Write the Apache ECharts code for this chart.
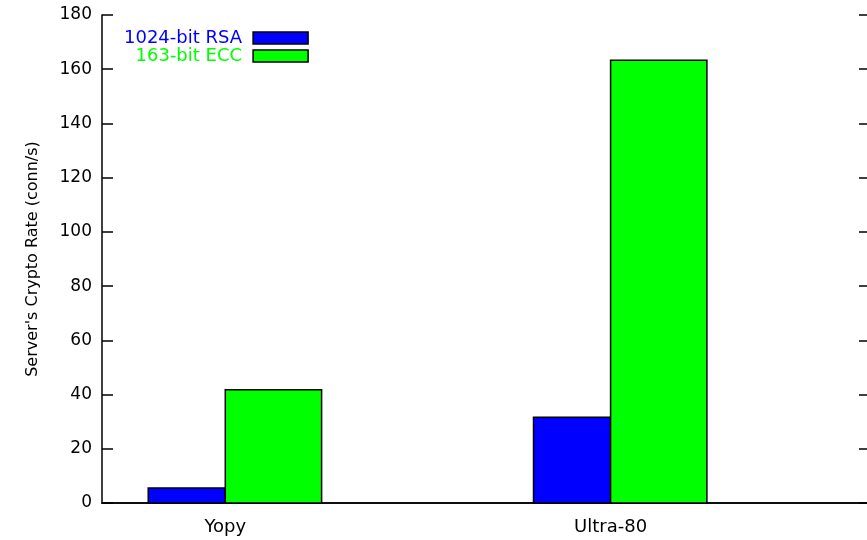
<!DOCTYPE html>
<html>
<head>
<meta charset="utf-8">
<script src="https://cdn.jsdelivr.net/npm/echarts@6/dist/echarts.min.js"></script>
<style>
  html, body { margin: 0; padding: 0; background: #fff; overflow: hidden; }
  /* the frame runs a little past the right edge of the window */
  #chart { width: 870px; height: 540px; }
</style>
</head>
<body>
<div id="chart"></div>
<script>
// Platforms on the x axis and where their tick sits
const categories = ['Yopy', 'Ultra-80'];
const tickPos = [1, 4];

// Server crypto rate, connections per second
const rsaValues = [5.5, 31.6];
const eccValues = [41.8, 163.3];

const seriesNames = ['1024-bit RSA', '163-bit ECC'];
const yTicks = [0, 20, 40, 60, 80, 100, 120, 140, 160, 180];

const FONT = 'DejaVu Sans';

// Box drawn from the tick position shifted by [lo, hi] x-units, from 0 up to the value
function boxRenderer(lo, hi) {
  return function (params, api) {
    const x = api.value(0);
    const v = api.value(1);
    const p0 = api.coord([x + lo, 0]);
    const p1 = api.coord([x + hi, v]);
    return {
      type: 'rect',
      shape: { x: p0[0], y: p1[1], width: p1[0] - p0[0], height: p0[1] - p1[1] },
      style: { fill: api.visual('color'), stroke: '#000', lineWidth: 1.5 }
    };
  };
}

const pairs = vals => vals.map((v, i) => [tickPos[i], v]);

const chart = echarts.init(document.getElementById('chart'), null, { renderer: 'canvas' });

const axisLine = { show: true, lineStyle: { color: '#000', width: 1.5 } };

chart.setOption({
  animation: false,
  backgroundColor: '#fff',
  textStyle: { fontFamily: FONT },
  grid: { left: 102, right: 0, top: 15, height: 488 },
  legend: {
    orient: 'vertical',
    align: 'right',
    left: 124,
    top: 29,
    padding: 0,
    icon: 'rect',
    itemWidth: 55,
    itemHeight: 12,
    itemGap: 0,
    selectedMode: false,
    textStyle: { fontFamily: FONT, fontSize: 18, lineHeight: 16, padding: [0, 6, 0, 0] },
    data: [
      { name: seriesNames[0], textStyle: { color: '#0000ff' }, itemStyle: { borderColor: '#000', borderWidth: 1.5 } },
      { name: seriesNames[1], textStyle: { color: '#00ff00' }, itemStyle: { borderColor: '#000', borderWidth: 1.5 } }
    ]
  },
  xAxis: [
    {
      type: 'value',
      min: 0.04,
      max: 6.02,
      position: 'bottom',
      axisLine: axisLine,
      axisTick: { show: false },
      splitLine: { show: false },
      axisLabel: {
        customValues: tickPos,
        formatter: v => categories[tickPos.indexOf(v)] || '',
        color: '#000',
        fontFamily: FONT,
        fontSize: 18,
        margin: 15
      }
    },
    {
      type: 'value',
      min: 0.04,
      max: 6.02,
      position: 'top',
      axisLine: axisLine,
      axisTick: { show: false },
      axisLabel: { show: false },
      splitLine: { show: false }
    }
  ],
  yAxis: [
    {
      type: 'value',
      min: yTicks[0],
      max: yTicks[yTicks.length - 1],
      interval: 20,
      position: 'left',
      name: "Server's Crypto Rate (conn/s)",
      nameLocation: 'middle',
      nameGap: 61,
      nameTextStyle: { color: '#000', fontFamily: FONT, fontSize: 16 },
      axisLine: axisLine,
      axisTick: { show: true, inside: true, length: 11, lineStyle: { color: '#000', width: 1.5 } },
      axisLabel: { color: '#000', fontFamily: FONT, fontSize: 17, margin: 10 },
      splitLine: { show: false }
    },
    {
      type: 'value',
      min: yTicks[0],
      max: yTicks[yTicks.length - 1],
      interval: 20,
      position: 'right',
      axisLine: axisLine,
      axisTick: { show: true, inside: true, length: 11, lineStyle: { color: '#000', width: 1.5 } },
      axisLabel: { show: false },
      splitLine: { show: false }
    }
  ],
  series: [
    {
      name: seriesNames[0],
      type: 'custom',
      itemStyle: { color: '#0000ff' },
      encode: { x: 0, y: 1 },
      renderItem: boxRenderer(-0.6, 0),
      data: pairs(rsaValues)
    },
    {
      name: seriesNames[1],
      type: 'custom',
      itemStyle: { color: '#00ff00' },
      encode: { x: 0, y: 1 },
      renderItem: boxRenderer(0, 0.75),
      data: pairs(eccValues)
    }
  ]
});
</script>
</body>
</html>
